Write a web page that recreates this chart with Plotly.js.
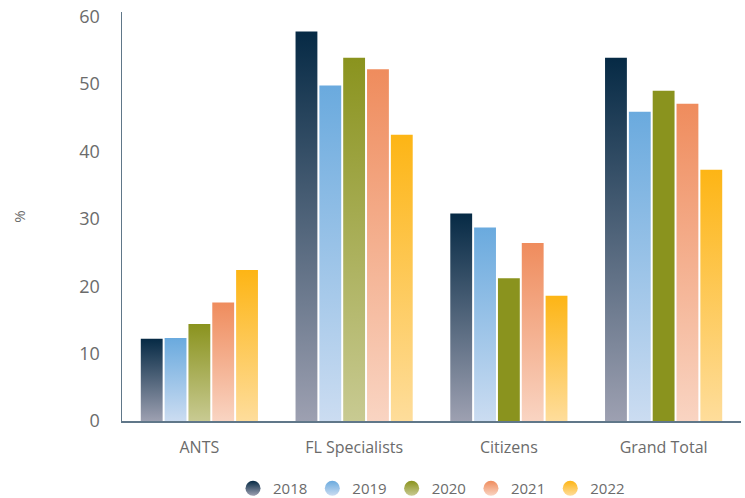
<!DOCTYPE html>
<html>
<head>
<meta charset="utf-8">
<script src="https://cdn.plot.ly/plotly-3.0.1.min.js"></script>
<style>
  html, body { margin: 0; padding: 0; background: #ffffff; }
  #chart { width: 745px; height: 498px; }
</style>
</head>
<body>
<div id="chart"></div>
<script>
// Survey groups and yearly shares (%)
const categories = ["ANTS", "FL Specialists", "Citizens", "Grand Total"];
const years = ["2018", "2019", "2020", "2021", "2022"];
const values2018 = [12.2, 57.8, 30.8, 53.9];
const values2019 = [12.3, 49.8, 28.7, 45.9];
const values2020 = [14.4, 53.9, 21.2, 49.0];
const values2021 = [17.6, 52.2, 26.4, 47.1];
const values2022 = [22.4, 42.5, 18.6, 37.3];
const yTicks = [0, 10, 20, 30, 40, 50, 60];

const series = [values2018, values2019, values2020, values2021, values2022];

// Vertical gradient per year: top colour -> bottom colour
const palette = [
  { top: "#062a45", bottom: "#9da0b1" },
  { top: "#6aaade", bottom: "#cbdcf1" },
  { top: "#8a931e", bottom: "#c8ca92" },
  { top: "#ef8c5d", bottom: "#f9d4c2" },
  { top: "#fdb515", bottom: "#fedd9b" }
];
// 2020 bars for Citizens and Grand Total are drawn in flat olive
const solidBars = { 2: [2, 3] };

const textColor = "#6b6b6b";
const fontFamily = "'Open Sans', 'DejaVu Sans', sans-serif";

const traces = [];
series.forEach((vals, i) => {
  traces.push({
    type: "bar",
    x: categories,
    y: vals,
    name: years[i],
    marker: { color: palette[i].top, line: { width: 0 } },
    showlegend: false,
    hoverinfo: "x+y+name"
  });
});
// Round legend swatches with the same gradients
series.forEach((vals, i) => {
  traces.push({
    type: "scatter",
    mode: "markers",
    x: [null],
    y: [null],
    name: years[i],
    marker: {
      symbol: "circle",
      size: 15,
      color: palette[i].top,
      gradient: { type: "vertical", color: palette[i].bottom },
      line: { width: 0 }
    },
    showlegend: true,
    hoverinfo: "skip"
  });
});

const layout = {
  width: 745,
  height: 498,
  margin: { l: 122, r: 4, t: 12, b: 76.5, autoexpand: false },
  paper_bgcolor: "#ffffff",
  plot_bgcolor: "#ffffff",
  font: { family: fontFamily, color: textColor, size: 16 },
  barmode: "group",
  bargap: 0.23,
  bargroupgap: 0.083,
  showlegend: true,
  legend: {
    orientation: "h",
    x: 0.5,
    xanchor: "center",
    yref: "container",
    y: 0.019,
    yanchor: "middle",
    font: { size: 15, color: textColor },
    itemclick: false,
    traceorder: "normal"
  },
  xaxis: {
    type: "category",
    showgrid: false,
    zeroline: false,
    showline: true,
    linecolor: "#607789",
    linewidth: 1.5,
    ticks: "",
    ticklabelstandoff: 11,
    tickfont: { size: 16, color: textColor },
    fixedrange: true
  },
  yaxis: {
    range: [0, 60.7],
    tickvals: yTicks,
    ticktext: yTicks.map(String),
    showgrid: false,
    zeroline: false,
    showline: true,
    linecolor: "#607789",
    linewidth: 1.5,
    ticks: "",
    ticklabelstandoff: 17,
    tickfont: { size: 18, color: textColor },
    title: { text: "%", font: { size: 15, color: textColor }, standoff: 50 },
    fixedrange: true
  }
};

const gd = document.getElementById("chart");

function applyGradients() {
  const svg = gd.querySelector(".main-svg");
  const ns = "http://www.w3.org/2000/svg";
  let defs = svg.querySelector("defs");
  if (!defs) {
    defs = document.createElementNS(ns, "defs");
    svg.insertBefore(defs, svg.firstChild);
  }
  palette.forEach((c, i) => {
    const id = "bar-grad-" + years[i];
    if (defs.querySelector("#" + id)) return;
    const lg = document.createElementNS(ns, "linearGradient");
    lg.setAttribute("id", id);
    lg.setAttribute("x1", "0"); lg.setAttribute("y1", "0");
    lg.setAttribute("x2", "0"); lg.setAttribute("y2", "1");
    const s1 = document.createElementNS(ns, "stop");
    s1.setAttribute("offset", "0"); s1.setAttribute("stop-color", c.top);
    const s2 = document.createElementNS(ns, "stop");
    s2.setAttribute("offset", "1"); s2.setAttribute("stop-color", c.bottom);
    lg.appendChild(s1); lg.appendChild(s2);
    defs.appendChild(lg);
  });
  const barTraces = gd.querySelectorAll(".barlayer .trace.bars");
  barTraces.forEach((tr, i) => {
    const pts = tr.querySelectorAll(".point path");
    pts.forEach((p, j) => {
      const flat = solidBars[i] && solidBars[i].indexOf(j) !== -1;
      if (!flat) p.style.fill = "url(#bar-grad-" + years[i] + ")";
    });
  });
}

Plotly.newPlot(gd, traces, layout, { staticPlot: true, displayModeBar: false })
  .then(applyGradients);
</script>
</body>
</html>
